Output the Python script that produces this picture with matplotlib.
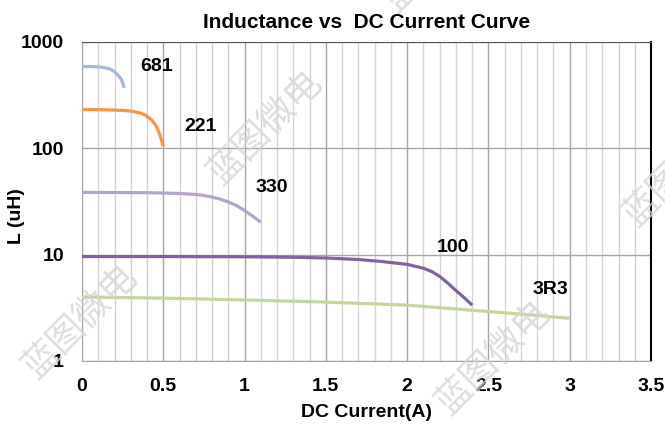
# -*- coding: utf-8 -*-
# Inductance vs DC Current curve (log y axis)

import numpy as np
import matplotlib
matplotlib.use("Agg")
import matplotlib.pyplot as plt
from matplotlib.ticker import MultipleLocator, FixedLocator, NullFormatter

# data
x_681 = [0, 0.05, 0.10, 0.13, 0.16, 0.18, 0.20, 0.22, 0.24, 0.25, 0.26]
l_681 = [588, 587, 583, 577, 565, 550, 525, 490, 450, 415, 370]

x_221 = [0, 0.1, 0.2, 0.25, 0.3, 0.33, 0.36, 0.39, 0.42, 0.44, 0.46, 0.48, 0.5]
l_221 = [232, 231, 229, 227, 224, 220, 214, 205, 190, 176, 158, 132, 105]

x_330 = [0, 0.2, 0.4, 0.5, 0.6, 0.7, 0.75, 0.8, 0.85, 0.9, 0.95, 1.0, 1.05, 1.1]
l_330 = [38.5, 38.4, 38.2, 38.0, 37.6, 36.8, 36.0, 34.8, 33.3, 31.3, 29.0, 26.0, 23.0, 20.2]

x_100 = [0, 0.5, 1.0, 1.3, 1.5, 1.7, 1.85, 2.0, 2.1, 2.15, 2.2, 2.25, 2.3, 2.35, 2.4]
l_100 = [9.6, 9.6, 9.55, 9.45, 9.3, 9.0, 8.6, 8.1, 7.45, 6.95, 6.25, 5.4, 4.6, 3.95, 3.35]

x_3r3 = [0, 0.5, 1.0, 1.5, 2.0, 2.5, 2.75, 3.0]
l_3r3 = [4.0, 3.9, 3.75, 3.58, 3.35, 2.92, 2.72, 2.52]

series = [
    ("681", x_681, l_681, "#a6b9d8", (0.46, 590)),
    ("221", x_221, l_221, "#f79646", (0.73, 162)),
    ("330", x_330, l_330, "#b4a5c9", (1.17, 43)),
    ("100", x_100, l_100, "#8064a2", (2.28, 11.6)),
    ("3R3", x_3r3, l_3r3, "#c4d79e", (2.88, 4.75)),
]

x_ticks = [0, 0.5, 1, 1.5, 2, 2.5, 3, 3.5]
x_tick_labels = ["0", "0.5", "1", "1.5", "2", "2.5", "3", "3.5"]
y_ticks = [1, 10, 100, 1000]
y_tick_labels = ["1", "10", "100", "1000"]

plt.rcParams['font.family'] = ['Liberation Sans', 'DejaVu Sans']

fig = plt.figure(figsize=(6.65, 4.24), dpi=100)
ax = fig.add_axes([0.1233, 0.1486, 0.8557, 0.7524])

for name, xs, ys, color, pos in series:
    ax.plot(xs, ys, color=color, lw=2.3, solid_capstyle='butt',
            solid_joinstyle='round', zorder=3)
    ax.text(pos[0], pos[1], name, fontsize=14, fontweight='bold',
            ha='center', va='center', zorder=4)

ax.set_yscale('log')
ax.set_xlim(0, 3.5)
ax.set_ylim(1, 1000)

# grid: light lines every 0.1, darker every 0.5, decades on y
ax.xaxis.set_minor_locator(MultipleLocator(0.1))
ax.xaxis.set_minor_formatter(NullFormatter())
ax.set_xticks(x_ticks)
ax.set_xticklabels(x_tick_labels)
ax.yaxis.set_major_locator(FixedLocator(y_ticks))
ax.yaxis.set_minor_locator(FixedLocator([]))
ax.set_yticks(y_ticks)
ax.set_yticklabels(y_tick_labels)
ax.grid(which='minor', axis='x', color='#d4d4d4', lw=1.0)
ax.grid(which='major', axis='x', color='#a6a6a6', lw=1.0)
ax.grid(which='major', axis='y', color='#a6a6a6', lw=1.0)
ax.set_axisbelow(True)
ax.tick_params(which='both', length=0, labelsize=14)
ax.tick_params(axis='x', pad=12)
ax.tick_params(axis='y', pad=13)
for lab in ax.get_xticklabels() + ax.get_yticklabels():
    lab.set_fontweight('bold')

ax.spines['left'].set_color('#a6a6a6')
ax.spines['bottom'].set_color('#a6a6a6')
ax.spines['top'].set_color('#595959')
ax.spines['right'].set_color('black')
ax.spines['right'].set_linewidth(1.5)

ax.set_title("Inductance vs  DC Current Curve", fontsize=15, fontweight='bold', pad=10)
ax.set_xlabel("DC Current(A)", fontsize=14, fontweight='bold', labelpad=7)
ax.set_ylabel("L (uH)", fontsize=14, fontweight='bold')
ax.yaxis.set_label_coords(-0.1, 0.455)

# watermarks
for wx, wy in [(80, 322), (265, 128), (493, 358), (680, 170), (440, -45)]:
    fig.text(wx / 665, 1 - wy / 424, "蓝图微电", rotation=45, fontsize=26,
             color='#d6d6d6', alpha=0.8, ha='center', va='center',
             family=['Noto Sans CJK SC', 'DejaVu Sans'], zorder=10)

fig.savefig("out.png", dpi=100)
